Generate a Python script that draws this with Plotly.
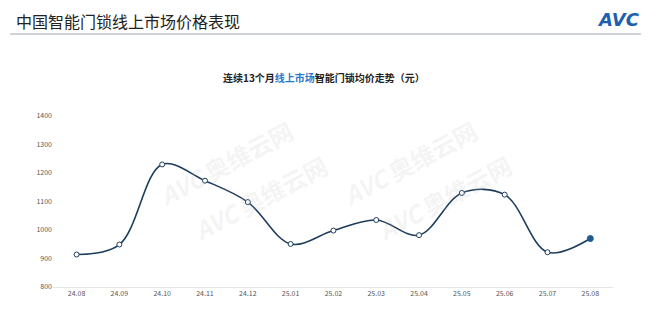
import plotly.graph_objects as go

months = ["24.08", "24.09", "24.10", "24.11", "24.12", "25.01", "25.02",
          "25.03", "25.04", "25.05", "25.06", "25.07", "25.08"]
prices = [914, 949, 1230, 1173, 1098, 951, 998, 1035, 982, 1130, 1124, 922, 970]
y_ticks = [800, 900, 1000, 1100, 1200, 1300, 1400]

FONT = "Noto Sans CJK SC"
L, R, T, B = 53, 43, 116, 32
W, H = 656, 319
PW, PH = W - L - R, H - T - B


def px(x):
    return (x - L) / PW


def py(y):
    return (H - B - y) / PH


fig = go.Figure()
fig.add_trace(go.Scatter(
    x=months, y=prices, mode="lines",
    line=dict(color="#1e3d5c", width=1.6, shape="spline", smoothing=1.0),
    hoverinfo="skip", showlegend=False))
fig.add_trace(go.Scatter(
    x=months[:-1], y=prices[:-1], mode="markers",
    marker=dict(size=5, color="white", line=dict(color="#1e3d5c", width=1)),
    showlegend=False))
fig.add_trace(go.Scatter(
    x=months[-1:], y=prices[-1:], mode="markers",
    marker=dict(size=6, color="#1f5a92", line=dict(color="#1f5a92", width=1)),
    showlegend=False))

# watermarks
wm = [(150, 110), (410, 110), (260, 250), (520, 250)]
ann = []
for (ax, ay) in wm:
    ann.append(dict(text="<b><i>AVC</i></b> <b>奥维云网</b>", x=px(ax), y=py(ay),
                    xref="paper", yref="paper", showarrow=False, textangle=-28,
                    font=dict(family=FONT, size=24, color="rgba(190,190,190,0.16)")))

fig.update_layout(
    width=W, height=H,
    margin=dict(l=L, r=R, t=T, b=B),
    paper_bgcolor="white", plot_bgcolor="white",
    font=dict(family=FONT, color="#555555"),
    xaxis=dict(type="category", range=[-0.55, 12.53], showgrid=False,
               showline=True, linecolor="#e6e6e6", linewidth=1, ticks="",
               tickfont=dict(size=7, color="#555555"), fixedrange=True),
    yaxis=dict(range=[800, 1400], tickvals=y_ticks, showgrid=False,
               zeroline=False, showline=False, ticks="",
               tickfont=dict(size=7, color="#555555"), fixedrange=True),
    annotations=ann + [
        dict(text="中国智能门锁线上市场价格表现", x=px(14), y=py(21),
             xref="paper", yref="paper", xanchor="left", yanchor="middle",
             showarrow=False, font=dict(family=FONT, size=16, color="#222222")),
        dict(text="<b><i>AVC</i></b>", x=px(642), y=py(19),
             xref="paper", yref="paper", xanchor="right", yanchor="middle",
             showarrow=False, font=dict(family="DejaVu Sans", size=18, color="#1f5fb0")),
        dict(text="<b>连续13个月<span style='color:#2a78c8'>线上市场</span>智能门锁均价走势（元）</b>",
             x=px(324), y=py(77), xref="paper", yref="paper",
             xanchor="center", yanchor="middle", showarrow=False,
             font=dict(family=FONT, size=10, color="#222222")),
    ],
    shapes=[dict(type="line", xref="paper", yref="paper", x0=px(10), x1=px(641),
                 y0=py(34), y1=py(34), line=dict(color="#a0a8b0", width=1))],
)

fig.write_html("out.html")
